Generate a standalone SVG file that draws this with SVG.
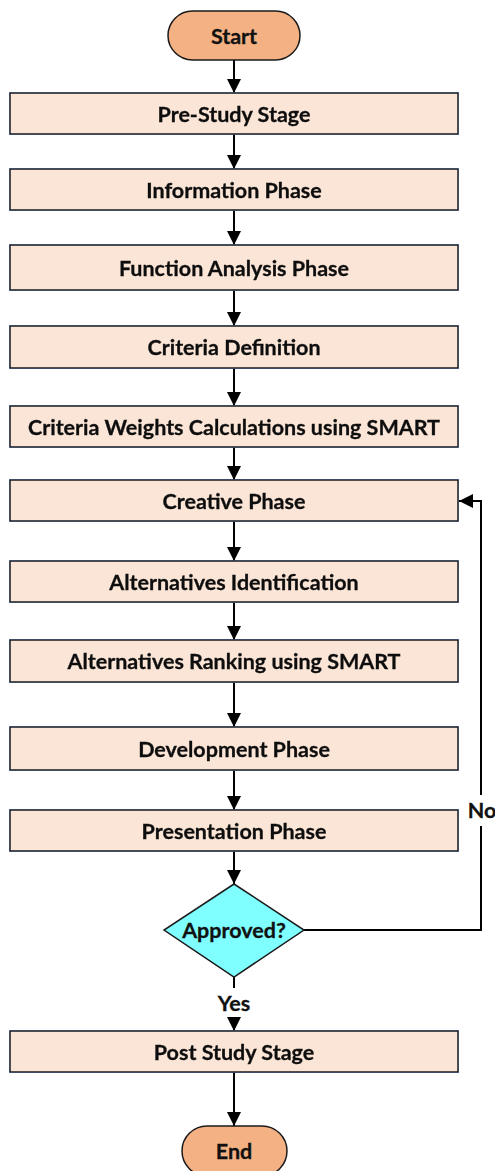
<svg xmlns="http://www.w3.org/2000/svg" width="495" height="1171" viewBox="0 0 495 1171">
  <defs>
    <marker id="arrow" viewBox="0 0 10 10" refX="10" refY="5" markerWidth="14" markerHeight="14" markerUnits="userSpaceOnUse" orient="auto">
      <path d="M0,0 L10,5 L0,10 z" fill="#000"/>
    </marker>
    <filter id="shadow" x="-5%" y="-20%" width="110%" height="160%">
      <feGaussianBlur in="SourceAlpha" stdDeviation="2"/>
      <feOffset dx="0" dy="3"/>
      <feComponentTransfer><feFuncA type="linear" slope="0.18"/></feComponentTransfer>
      <feFlood flood-color="#5b7fb8"/>
      <feComposite operator="in" in2="SourceGraphic"/>
      <feMerge><feMergeNode/><feMergeNode in="SourceGraphic"/></feMerge>
    </filter>
  </defs>
  <style>
    .box { fill: #FBE5D6; stroke: #1a1a1a; stroke-width: 1.5; }
    .term { fill: #F4B183; stroke: #1a1a1a; stroke-width: 1.5; }
    .dec { fill: #7FFFFF; stroke: #1a1a1a; stroke-width: 1.5; }
    .lbl { font-family: Lato, "Liberation Sans", sans-serif; font-weight: bold; font-size: 21.5px; fill: #111; text-anchor: middle; dominant-baseline: central; stroke: #111; stroke-width: 0.3; }
    .edge { stroke: #000; stroke-width: 2; fill: none; }
  </style>

  <g id="connectors">
    <line class="edge" x1="234" y1="60" x2="234" y2="93" marker-end="url(#arrow)"/>
    <line class="edge" x1="234" y1="134" x2="234" y2="169" marker-end="url(#arrow)"/>
    <line class="edge" x1="234" y1="210" x2="234" y2="245" marker-end="url(#arrow)"/>
    <line class="edge" x1="234" y1="290" x2="234" y2="326" marker-end="url(#arrow)"/>
    <line class="edge" x1="234" y1="368" x2="234" y2="406" marker-end="url(#arrow)"/>
    <line class="edge" x1="234" y1="447" x2="234" y2="480" marker-end="url(#arrow)"/>
    <line class="edge" x1="234" y1="521" x2="234" y2="561" marker-end="url(#arrow)"/>
    <line class="edge" x1="234" y1="602" x2="234" y2="640" marker-end="url(#arrow)"/>
    <line class="edge" x1="234" y1="682" x2="234" y2="727" marker-end="url(#arrow)"/>
    <line class="edge" x1="234" y1="770" x2="234" y2="810" marker-end="url(#arrow)"/>
    <line class="edge" x1="234" y1="851" x2="234" y2="884" marker-end="url(#arrow)"/>
    <line class="edge" x1="234" y1="977" x2="234" y2="988"/>
    <line class="edge" x1="234" y1="1017" x2="234" y2="1031" marker-end="url(#arrow)"/>
    <line class="edge" x1="234" y1="1072" x2="234" y2="1126" marker-end="url(#arrow)"/>
    <!-- "No" loop back to the creative phase, broken around its label -->
    <polyline class="edge" points="304,930 481,930 481,826"/>
    <polyline class="edge" points="481,795 481,501 459,501" marker-end="url(#arrow)"/>
    <text class="lbl" x="482" y="810">No</text>
    <text class="lbl" x="234" y="1003">Yes</text>
  </g>

  <g id="start"><rect class="term" x="168" y="11" width="132" height="49" rx="24.5"/><text class="lbl" x="234" y="36">Start</text></g>
  <g id="pre-study" filter="url(#shadow)"><rect class="box" x="10" y="93" width="448" height="41"/><text class="lbl" x="234" y="114">Pre-Study Stage</text></g>
  <g id="information" filter="url(#shadow)"><rect class="box" x="10" y="169" width="448" height="41"/><text class="lbl" x="234" y="190">Information Phase</text></g>
  <g id="function-analysis" filter="url(#shadow)"><rect class="box" x="10" y="245" width="448" height="45"/><text class="lbl" x="234" y="268">Function Analysis Phase</text></g>
  <g id="criteria-definition" filter="url(#shadow)"><rect class="box" x="10" y="326" width="448" height="42"/><text class="lbl" x="234" y="347">Criteria Definition</text></g>
  <g id="criteria-weights" filter="url(#shadow)"><rect class="box" x="10" y="406" width="448" height="41"/><text class="lbl" x="234" y="427">Criteria Weights Calculations using SMART</text></g>
  <g id="creative" filter="url(#shadow)"><rect class="box" x="10" y="480" width="448" height="41"/><text class="lbl" x="234" y="501">Creative Phase</text></g>
  <g id="alt-identification" filter="url(#shadow)"><rect class="box" x="10" y="561" width="448" height="41"/><text class="lbl" x="234" y="582">Alternatives Identification</text></g>
  <g id="alt-ranking" filter="url(#shadow)"><rect class="box" x="10" y="640" width="448" height="42"/><text class="lbl" x="234" y="661">Alternatives Ranking using SMART</text></g>
  <g id="development" filter="url(#shadow)"><rect class="box" x="10" y="727" width="448" height="43"/><text class="lbl" x="234" y="749">Development Phase</text></g>
  <g id="presentation" filter="url(#shadow)"><rect class="box" x="10" y="810" width="448" height="41"/><text class="lbl" x="234" y="831">Presentation Phase</text></g>
  <g id="approved"><polygon class="dec" points="234,884 304,930 234,977 164,930"/><text class="lbl" x="234" y="930">Approved?</text></g>
  <g id="post-study" filter="url(#shadow)"><rect class="box" x="10" y="1031" width="448" height="41"/><text class="lbl" x="234" y="1052">Post Study Stage</text></g>
  <g id="end"><rect class="term" x="182" y="1126" width="105" height="50" rx="25"/><text class="lbl" x="234" y="1151">End</text></g>
</svg>
